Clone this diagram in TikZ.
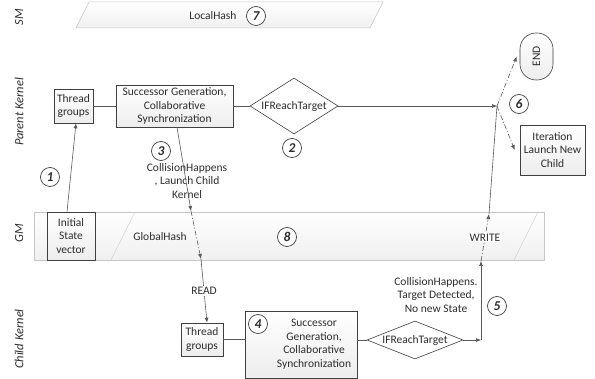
\documentclass[tikz,border=0pt]{standalone}
\usepackage{fontspec}
\setmainfont{Carlito}
\usetikzlibrary{shapes.geometric,arrows.meta}

\begin{document}
\begin{tikzpicture}[x=1pt,y=-1pt,
  every node/.style={text=txt,align=center,font=\fontsize{11.5}{13.5}\selectfont},
  box/.style={draw=edge,line width=0.6pt,top color=white,bottom color=gray!14,inner sep=1pt},
  cond/.style={diamond,draw=edge,line width=0.6pt,fill=white,inner sep=0pt},
  band/.style={draw=gray!45,line width=0.5pt,top color=white,bottom color=gray!12},
  numc/.style={circle,draw=edge,line width=0.7pt,fill=white,minimum size=19pt,inner sep=0pt,
    font=\fontsize{13.5}{13.5}\selectfont\bfseries\itshape},
  lane/.style={rotate=90,font=\fontsize{12.5}{14}\selectfont\itshape},
  lnk/.style={draw=wire,line width=0.6pt},
  arr/.style={lnk,-{Latex[length=5pt,width=4pt]}},
  ddarr/.style={arr,dash pattern=on 5pt off 2pt on 1pt off 2pt}]
  \definecolor{edge}{RGB}{64,64,64}
  \definecolor{wire}{RGB}{89,89,89}
  \definecolor{txt} {RGB}{45,45,45}
  \useasboundingbox(0,0)rectangle(595,379);
  % memory bands
  \path[band](89,2)--(383,2)--(370,28)--(76,28)--cycle;
  \path[band](34,212)rectangle(544,260);
  \draw[gray!45](135,212)--(111,260);
  \draw[gray!45](538,212)--(514,260);
  \node(local)at(213,16){LocalHash};
  \node(glob)at(160,237){GlobalHash};
  % lanes
  \foreach \nm/\txt/\yy in {sm/SM/17,pk/Parent Kernel/112,gm/GM/233,ck/Child Kernel/339}{
    \node[lane](\nm)at(19,\yy){\txt};
  }
  % parent kernel
  \node[box,minimum width=39pt,minimum height=34pt](pth)at(73.5,106){Thread\\groups};
  \node[box,minimum width=117pt,minimum height=42pt](psucc)at(174.5,106)
    {Successor Generation,\\Collaborative\\Synchronization};
  \node[cond,aspect=2,minimum width=88pt,minimum height=56pt](pdia)at(294,106){IFReachTarget};
  \node[box,minimum width=48pt,minimum height=48pt](init)at(71,236){Initial\\State\\vector};
  \node[box,rounded corners=16pt,minimum width=33pt,minimum height=47pt](fin)at(536.5,56.5)
    {\rotatebox{90}{END}};
  \node[box,minimum width=65pt,minimum height=50pt](iter)at(552.5,150){Iteration\\Launch New\\Child};
  % child kernel
  \node[box,minimum width=42pt,minimum height=33pt](cth)at(202,339.5){Thread\\groups};
  \node[box,minimum width=112pt,minimum height=67pt](csucc)at(301,344.5){};
  \node(csucctxt)at(314,344){Successor\\Generation,\\Collaborative\\Synchronization};
  \node[cond,aspect=2.5,minimum width=96pt,minimum height=38pt](cdia)at(415,340){IFReachTarget};
  \node(coll3)at(187,181){CollisionHappens\\, Launch Child\\Kernel};
  \node(coll5)at(436,295){CollisionHappens.\\Target Detected,\\No new State};
  % step numbers
  \foreach \n/\p in {1/{50,177},2/{292,148},3/{161,151},4/{258,324},
                     5/{497,306},6/{519,104},7/{256,16},8/{287,237}}{
    \node[numc](n\n)at(\p){\n};
  }
  % connectors
  \coordinate(join)at(497,106);
  \coordinate(gmin)at(191,211);
  \coordinate(gmout)at(201,259);
  \coordinate(turn)at(481,340);
  \coordinate(wrin)at(481,261);
  \coordinate(wrout)at(489,214);
  \draw[arr]([xshift=-4pt]init.north)--([xshift=2.5pt]pth.south);
  \draw[lnk](pth)--(psucc);
  \draw[lnk](psucc)--(pdia);
  \draw[arr](pdia.east)--(join);
  \draw[arr]([xshift=2.5pt]psucc.south)--(gmin);
  \draw[ddarr](gmin)--(gmout);
  \draw[arr](gmout)--node[fill=white,inner sep=1pt](rd){READ}([xshift=5pt]cth.north);
  \draw[lnk](cth.east)--(cth.east-|csucc.west);
  \draw[lnk](cdia.west-|csucc.east)--(cdia.west);
  \draw[arr](cdia.east)--(turn);
  \draw[arr](turn)--(wrin);
  \draw[ddarr](wrin)--node[fill=white,inner sep=1pt](wr){WRITE}(wrout);
  \draw[lnk](wrout)--(join);
  \draw[ddarr](join)--([xshift=-3pt]fin.west);
  \draw[ddarr](join)--([xshift=-5pt]iter.west);
\end{tikzpicture}
\end{document}
